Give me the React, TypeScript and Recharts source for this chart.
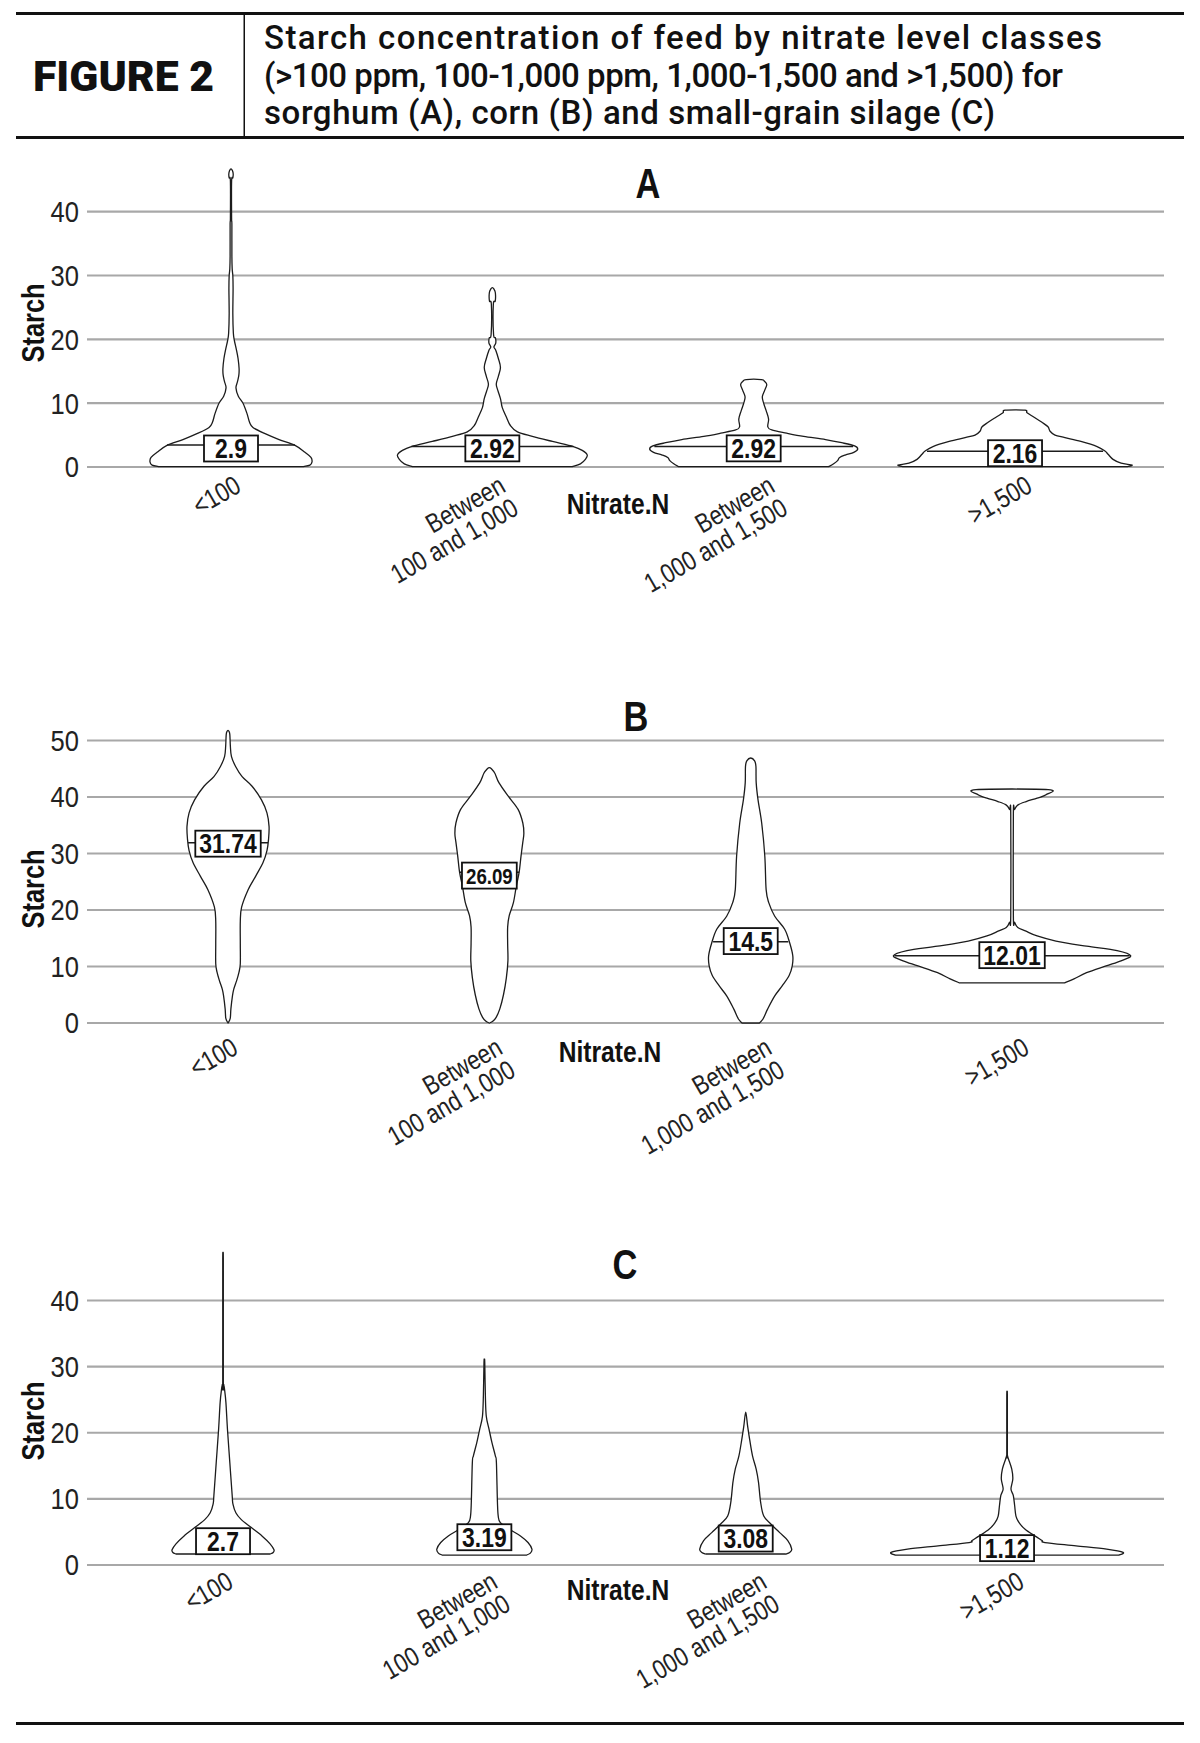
import React from 'react';
import { ComposedChart, Scatter, XAxis, YAxis, CartesianGrid } from 'recharts';

// ---------- DATA ----------
const CATEGORIES = ['<100', 'Between\n100 and 1,000', 'Between\n1,000 and 1,500', '>1,500'];

// violin profiles: [starch, half-width as % of category spacing]
const A_LT100: [number, number][] = [[0.05, 27.5], [0.3, 30.2], [0.8, 31.0], [1.5, 30.6], [2.3, 28.3], [3.4, 24.5], [4.3, 18.4], [5.3, 12.6], [6.2, 8.4], [7.0, 7.1], [8.4, 6.1], [10, 4.6], [11.1, 2.8], [12.4, 1.9], [13.4, 2.5], [14.4, 3.0], [15.4, 3.1], [17, 2.7], [18.5, 2.0], [19.8, 1.3], [21, 0.9], [24, 0.7], [28, 0.8], [30, 0.7], [31, 0.46], [33, 0.34], [38, 0.34], [39, 0.23], [44.8, 0.23], [45.3, 0.7], [45.9, 0.84], [46.4, 0.57], [46.7, 0]];
const A_100_1000: [number, number][] = [[0.05, 30.6], [0.5, 33.7], [1.2, 35.6], [1.9, 36.3], [2.6, 34.4], [3.2, 31.0], [4.0, 23.0], [4.8, 15.3], [5.5, 9.6], [6.5, 6.9], [7.8, 5.4], [9.3, 3.8], [10.7, 3.1], [12, 2.1], [13, 1.5], [14.2, 2.3], [15.6, 3.1], [17, 2.3], [18.3, 1.3], [18.8, 0.6], [19.4, 1.3], [20.2, 1.2], [20.8, 0.46], [25.5, 0.38], [26, 1.1], [27.3, 1.15], [27.9, 0.57], [28.1, 0]];
const A_1000_1500: [number, number][] = [[0.05, 28.7], [0.5, 30.6], [1.0, 32.1], [1.5, 32.9], [1.9, 35.2], [2.3, 38.3], [2.8, 39.8], [3.3, 38.6], [3.8, 33.7], [4.3, 27.5], [4.8, 19.1], [5.3, 12.6], [5.8, 6.9], [6.3, 5.4], [7.5, 5.7], [8.8, 4.8], [10, 3.8], [11, 3.3], [12, 4.2], [12.9, 5.0], [13.4, 4.2], [13.7, 2.9]];
const A_GT1500: [number, number][] = [[0.05, 42.8], [0.3, 44.8], [0.6, 40.6], [1.2, 37.5], [2.0, 35.6], [2.5, 34.4], [3.2, 31.4], [4.0, 25.2], [4.6, 19.1], [5.0, 15.3], [5.6, 13.4], [6.3, 12.6], [7.0, 10.3], [7.8, 7.3], [8.5, 4.6], [8.9, 3.8]];

const B_LT100: [number, number][] = [[0, 0], [0.8, 0.84], [2.5, 1.1], [4.8, 1.7], [6, 2.2], [7.5, 3.3], [9, 4.2], [10.5, 4.7], [14, 4.7], [18, 4.7], [20.5, 5.2], [23.6, 7.7], [26, 10.6], [28.4, 13.4], [30.5, 14.9], [32.5, 15.5], [34.8, 15.7], [37.2, 14.9], [39.5, 12.8], [41.9, 9.2], [43.6, 5.4], [45.4, 2.9], [47.2, 1.3], [49, 0.9], [51, 0.7], [51.6, 0.4], [51.8, 0]];
const B_100_1000: [number, number][] = [[0, 0], [0.3, 1.3], [1.0, 2.6], [2.5, 4.0], [5, 5.4], [8, 6.5], [11, 7.1], [14, 7.0], [17, 7.0], [19, 7.6], [21.3, 9.2], [24.2, 10.3], [26.7, 11.4], [29.5, 12.1], [32, 12.8], [33.6, 13.2], [35.4, 12.8], [37.8, 11.0], [40.1, 7.3], [42.5, 3.7], [44.2, 2.1], [45, 0.77], [45.2, 0]];
const B_1000_1500: [number, number][] = [[0.0, 3.3], [0.7, 4.7], [2.5, 6.5], [4.8, 9.2], [6.6, 12.1], [8.4, 14.7], [10.1, 15.9], [11.9, 16.1], [14.2, 14.9], [16.6, 13.0], [18.9, 9.2], [21.3, 6.9], [23.6, 5.9], [29.5, 5.4], [35.4, 4.2], [39.5, 2.8], [42.5, 2.1], [45.4, 2.0], [46.4, 1.5], [46.9, 0]];
const B_GT1500: [number, number][] = [[7.1, 20.1], [7.8, 23.7], [8.9, 28.5], [10.1, 36.0], [11.0, 41.7], [11.9, 45.4], [12.8, 40.2], [13.6, 28.5], [14.5, 16.8], [15.4, 9.6], [16.3, 5.1], [16.9, 2.2], [17.8, 1.0], [19, 0.5], [37, 0.5], [37.8, 0.96], [38.6, 2.3], [39.2, 5.4], [39.8, 9.6], [40.4, 13.0], [41.3, 13.8]];

const C_LT100: [number, number][] = [[1.66, 18.0], [1.9, 19.2], [2.3, 19.5], [3.2, 18.0], [4.4, 14.9], [5.7, 10.7], [6.9, 6.9], [7.9, 4.9], [9.2, 3.8], [10.5, 3.5], [15.5, 2.6], [20.5, 1.7], [24.6, 1.1], [26.6, 0.57], [27.3, 0.27], [28, 0.11], [45.9, 0.11], [46, 0]];
const C_100_1000: [number, number][] = [[1.5, 16.1], [1.8, 17.6], [2.4, 18.2], [3.4, 16.7], [4.4, 13.8], [5.4, 9.6], [6.4, 6.1], [7.4, 5.3], [9.5, 5.0], [15.5, 4.6], [16.5, 4.2], [18.5, 2.9], [20.5, 1.8], [22.5, 0.73], [25.6, 0.38], [30.6, 0.15], [31, 0]];
const C_1000_1500: [number, number][] = [[1.66, 15.3], [1.9, 16.8], [2.4, 17.6], [3.7, 16.1], [4.9, 13.0], [6.2, 9.6], [7.4, 6.9], [9.5, 5.7], [12.5, 4.9], [14.5, 4.0], [16.5, 2.6], [19, 1.5], [21, 0.73], [23.1, 0]];
const C_GT1500: [number, number][] = [[1.5, 42.8], [1.9, 44.4], [2.4, 38.1], [2.9, 26.4], [3.4, 14.5], [3.7, 13.4], [4.4, 10.6], [5.4, 6.9], [6.4, 4.6], [7.4, 3.4], [9, 2.9], [10.5, 2.4], [11.5, 1.5], [13, 2.2], [14.5, 1.8], [16, 0.57], [16.5, 0.19], [17, 0.11], [25.6, 0.11], [25.7, 0]];

const A_LABELS = ['2.9', '2.92', '2.92', '2.16'];
const A_LABEL_Y = [2.9, 2.92, 2.92, 2.16];
const A_MEDIAN_Y = [3.45, 3.2, 3.2, 2.45];
const A_MEDIAN_HW = [24.5, 31.0, 38.0, 33.7];

const B_LABELS = ['31.74', '26.09', '14.5', '12.01'];
const B_LABEL_Y = [31.74, 26.09, 14.5, 12.01];
const B_MEDIAN_Y = [31.9, 26.7, 14.4, 11.9];
const B_MEDIAN_HW = [15.3, 11.4, 14.4, 45.0];

const C_LABELS = ['2.7', '3.19', '3.08', '1.12'];
const C_LABEL_Y = [3.6, 4.2, 4.0, 2.55];

const TICKS_A = [0, 10, 20, 30, 40];
const TICKS_B = [0, 10, 20, 30, 40, 50];
const TICKS_C = [0, 10, 20, 30, 40];

// ---------- STYLE ----------
const SANS = "'Liberation Sans', Arial, sans-serif";
const NARROW_X = 0.82;
const HEAD = "Roboto, 'Open Sans', sans-serif";
const INK = '#1c1c1c';
const GRID = '#a8a8a8';
const LABEL_FONT: Record<string, number> = { '26.09': 22 };
const TICK_NUDGE = [0, 3, 11, 7];

type Pt = { x: number; y: number };

function buildOutline(center: number, prof: [number, number][]): Pt[] {
  const right = prof.map(([y, w]) => ({ x: center + w / 100, y }));
  const left = [...prof].reverse().map(([y, w]) => ({ x: center - w / 100, y }));
  const out: Pt[] = [];
  for (const p of [...right, ...left]) {
    const q = out[out.length - 1];
    if (!q || q.x !== p.x || q.y !== p.y) out.push(p);
  }
  return out;
}

function smoothPath(pts: Pt[]): string {
  if (pts.length < 2) return '';
  let d = `M${pts[0].x},${pts[0].y}`;
  for (let i = 0; i < pts.length - 1; i++) {
    const p0 = pts[i - 1] || pts[i];
    const p1 = pts[i];
    const p2 = pts[i + 1];
    const p3 = pts[i + 2] || p2;
    const t = 1 / 6;
    const c1x = p1.x + (p2.x - p0.x) * t;
    const c1y = p1.y + (p2.y - p0.y) * t;
    const c2x = p2.x - (p3.x - p1.x) * t;
    const c2y = p2.y - (p3.y - p1.y) * t;
    d += ` C${c1x.toFixed(2)},${c1y.toFixed(2)} ${c2x.toFixed(2)},${c2y.toFixed(2)} ${p2.x.toFixed(2)},${p2.y.toFixed(2)}`;
  }
  return d + ' Z';
}

const violinLine = (props: any) => {
  const pts = ((props && props.points) || []).filter((p: any) => p && p.x != null && p.y != null);
  return <path d={smoothPath(pts)} fill="#fff" stroke={INK} strokeWidth={1.3} strokeLinejoin="round" />;
};

const medianLine = (props: any) => {
  const pts = ((props && props.points) || []).filter((p: any) => p && p.x != null && p.y != null);
  if (pts.length < 2) return <g />;
  return <line x1={pts[0].x} y1={pts[0].y} x2={pts[1].x} y2={pts[1].y} stroke={INK} strokeWidth={1.5} />;
};

const noShape = () => <g />;

const NText = ({ x, y, size, bold, anchor, children, rotate, sx }: any) => (
  <g transform={`translate(${x},${y})${rotate ? ` rotate(${rotate})` : ''} scale(${sx || NARROW_X},1)`}>
    <text x={0} y={0} fontSize={size} fontWeight={bold ? 'bold' : 'normal'} fontFamily={SANS} textAnchor={anchor || 'start'} fill="#111">
      {children}
    </text>
  </g>
);

const LabelBox = (props: any) => {
  const { cx, cy, payload } = props;
  if (cx == null || cy == null || !payload) return <g />;
  const label: string = payload.label;
  const fs = LABEL_FONT[label] || 27;
  const sx = 0.85;
  const textW = (label.replace('.', '').length * fs * 0.556 + fs * 0.278) * sx;
  const w = Math.max(54, textW + 8);
  const h = 26;
  return (
    <g>
      <rect x={cx - w / 2} y={cy - h / 2} width={w} height={h} fill="#fff" stroke="#111" strokeWidth={1.8} />
      <NText x={cx} y={cy + fs * 0.36} size={fs} bold anchor="middle" sx={sx}>{label}</NText>
    </g>
  );
};

const CatTick = (props: any) => {
  const { x, y, payload, dy0 } = props;
  const idx = Math.round(payload.value) - 1;
  const text = CATEGORIES[idx];
  if (!text) return <g />;
  const lines = text.split('\n');
  const nudge = TICK_NUDGE[idx] || 0;
  return (
    <g transform={`translate(${x + 2 + nudge},${y + dy0}) rotate(-30) scale(${NARROW_X},1)`}>
      <text textAnchor="end" fontSize={27} fill="#222" fontFamily={SANS}>
        {lines.map((l, k) => (
          <tspan key={k} x={0} dy={k === 0 ? 19.5 : 26}>
            {l}
          </tspan>
        ))}
      </text>
    </g>
  );
};

const YTick = (props: any) => {
  const { x, y, payload } = props;
  return (
    <g transform={`translate(${x},${y}) scale(0.88,1)`}>
      <text x={0} y={0} dy="0.36em" textAnchor="end" fontSize={29} fill="#222" fontFamily={SANS}>
        {payload.value}
      </text>
    </g>
  );
};

type PanelCfg = {
  top: number;
  height: number;
  y0: number;
  ppu: number;
  labelTop: number;
  yDomain: [number, number];
  xDomain: [number, number];
  ticks: number[];
  profiles: [number, number][][];
  labels: string[];
  labelY: number[];
  medianY?: number[];
  medianHW?: number[];
};

const Panel = ({ cfg }: { cfg: PanelCfg }) => {
  const [dMin, dMax] = cfg.yDomain;
  const plotTop = cfg.y0 - dMax * cfg.ppu;
  const plotH = (dMax - dMin) * cfg.ppu;
  const marginTop = plotTop - cfg.top;
  const xAxisH = cfg.height - marginTop - plotH;
  const dy0 = cfg.labelTop + dMin * cfg.ppu;
  const labelData = cfg.labels.map((l, i) => ({ x: i + 1, y: cfg.labelY[i], label: l }));
  return (
    <div style={{ position: 'absolute', left: 0, top: cfg.top, width: 1200, height: cfg.height }}>
      <ComposedChart width={1200} height={cfg.height} margin={{ top: marginTop, right: 36, bottom: 0, left: 47 }}>
        <CartesianGrid horizontal vertical={false} horizontalValues={cfg.ticks} stroke={GRID} strokeWidth={2.2} />
        <XAxis
          type="number"
          dataKey="x"
          domain={cfg.xDomain}
          allowDataOverflow
          ticks={[1, 2, 3, 4]}
          interval={0}
          axisLine={false}
          tickLine={false}
          tickSize={0}
          tickMargin={0}
          height={xAxisH}
          tick={(p: any) => <CatTick {...p} dy0={dy0} />}
        />
        <YAxis
          type="number"
          dataKey="y"
          domain={cfg.yDomain}
          allowDataOverflow
          ticks={cfg.ticks}
          interval={0}
          axisLine={false}
          tickLine={false}
          tickSize={6}
          tickMargin={2}
          width={40}
          tick={(p: any) => <YTick {...p} />}
        />
        {cfg.profiles.map((prof, i) => (
          <Scatter key={'v' + i} data={buildOutline(i + 1, prof)} line={violinLine} shape={noShape} isAnimationActive={false} />
        ))}
        {cfg.medianY &&
          cfg.medianY.map((m, i) => (
            <Scatter
              key={'m' + i}
              data={[
                { x: i + 1 - cfg.medianHW![i] / 100, y: m },
                { x: i + 1 + cfg.medianHW![i] / 100, y: m },
              ]}
              line={medianLine}
              shape={noShape}
              isAnimationActive={false}
            />
          ))}
        <Scatter data={labelData} shape={LabelBox} isAnimationActive={false} />
      </ComposedChart>
    </div>
  );
};

const PANEL_A: PanelCfg = {
  top: 140, height: 480, y0: 467, ppu: 6.383, labelTop: 7, yDomain: [-2.5, 48.5], xDomain: [0.449, 4.57], ticks: TICKS_A,
  profiles: [A_LT100, A_100_1000, A_1000_1500, A_GT1500], labels: A_LABELS, labelY: A_LABEL_Y, medianY: A_MEDIAN_Y, medianHW: A_MEDIAN_HW,
};
const PANEL_B: PanelCfg = {
  top: 700, height: 510, y0: 1023, ppu: 5.65, labelTop: 13, yDomain: [-2.5, 54], xDomain: [0.4604, 4.5814], ticks: TICKS_B,
  profiles: [B_LT100, B_100_1000, B_1000_1500, B_GT1500], labels: B_LABELS, labelY: B_LABEL_Y, medianY: B_MEDIAN_Y, medianHW: B_MEDIAN_HW,
};
const PANEL_C: PanelCfg = {
  top: 1225, height: 495, y0: 1565, ppu: 6.6125, labelTop: 5, yDomain: [-2.5, 48.5], xDomain: [0.4795, 4.6005], ticks: TICKS_C,
  profiles: [C_LT100, C_100_1000, C_1000_1500, C_GT1500], labels: C_LABELS, labelY: C_LABEL_Y,
};

const Overlay = () => (
  <svg width={1200} height={1743} style={{ position: 'absolute', left: 0, top: 0, pointerEvents: 'none' }}>
    <rect x={16} y={12} width={1168} height={3} fill="#111" />
    <rect x={16} y={136} width={1168} height={3} fill="#111" />
    <rect x={243.5} y={14} width={1.5} height={123} fill="#111" />
    <text x={33} y={91} fontSize={42} fontWeight={900} fontFamily={HEAD} fill="#111" textLength={181} lengthAdjust="spacingAndGlyphs">
      FIGURE 2
    </text>
    <text x={264} y={49} fontSize={33} fontWeight={500} fontFamily={HEAD} fill="#111" textLength={838} lengthAdjust="spacing">
      Starch concentration of feed by nitrate level classes
    </text>
    <text x={264} y={87} fontSize={33} fontWeight={500} fontFamily={HEAD} fill="#111" textLength={799} lengthAdjust="spacing">
      (&gt;100 ppm, 100-1,000 ppm, 1,000-1,500 and &gt;1,500) for
    </text>
    <text x={264} y={124} fontSize={33} fontWeight={500} fontFamily={HEAD} fill="#111" textLength={731} lengthAdjust="spacing">
      sorghum (A), corn (B) and small-grain silage (C)
    </text>

    <NText x={648} y={198} size={42} bold anchor="middle">A</NText>
    <NText x={636} y={731} size={42} bold anchor="middle">B</NText>
    <NText x={625} y={1279} size={42} bold anchor="middle">C</NText>

    <NText x={44} y={323} size={31} bold anchor="middle" rotate={-90}>Starch</NText>
    <NText x={44} y={889} size={31} bold anchor="middle" rotate={-90}>Starch</NText>
    <NText x={44} y={1421} size={31} bold anchor="middle" rotate={-90}>Starch</NText>

    <NText x={618} y={514} size={30} bold anchor="middle">Nitrate.N</NText>
    <NText x={610} y={1062} size={30} bold anchor="middle">Nitrate.N</NText>
    <NText x={618} y={1600} size={30} bold anchor="middle">Nitrate.N</NText>

    <rect x={16} y={1722} width={1168} height={3} fill="#111" />
  </svg>
);

export default function App() {
  return (
    <div style={{ position: 'absolute', left: 0, top: 0, width: 1200, height: 1743, background: '#fff', overflow: 'hidden' }}>
      <Panel cfg={PANEL_A} />
      <Panel cfg={PANEL_B} />
      <Panel cfg={PANEL_C} />
      <Overlay />
    </div>
  );
}
